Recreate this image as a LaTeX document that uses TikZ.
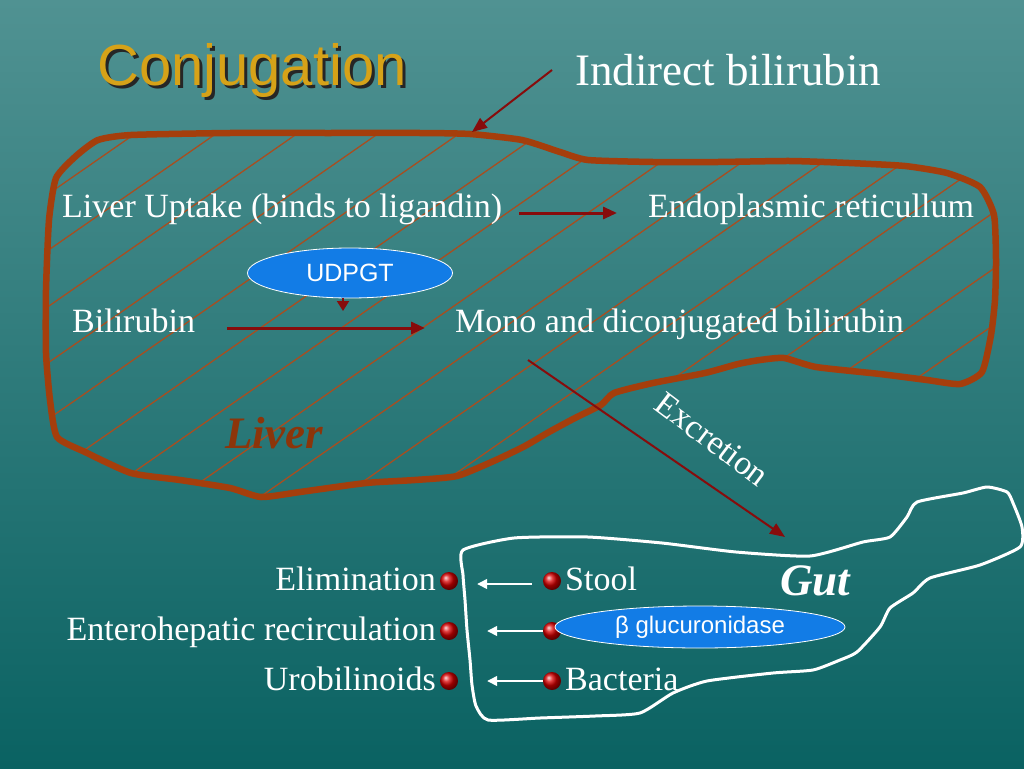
\documentclass[tikz,border=0pt]{standalone}
\usepackage{fontspec}
\setmainfont{Liberation Serif}
\newfontfamily\arialfont{Liberation Sans}
\usepackage{tikz}
\usetikzlibrary{shapes,arrows.meta,positioning}
\usepackage{xcolor}
\definecolor{bgtop}{RGB}{80,146,146}
\definecolor{bgbot}{RGB}{10,98,98}
\definecolor{titlegold}{RGB}{214,162,24}
\definecolor{liverbrown}{RGB}{165,62,12}
\definecolor{hatchbrown}{RGB}{168,78,32}
\definecolor{arrowred}{RGB}{135,12,12}
\definecolor{enzblue}{RGB}{18,124,230}

\begin{document}
\begin{tikzpicture}[x=1pt, y=-1pt,
    txt/.style={font=\fontsize{34}{40}\selectfont, text=white, inner sep=0pt, text height=20pt, text depth=12pt, anchor=base west},
    bigtxt/.style={txt, font=\fontsize{45}{54}\selectfont, text height=30pt},
    organ/.style={bigtxt, font=\fontsize{45}{54}\selectfont\bfseries\itshape},
    enzyme/.style={ellipse, draw=white, line width=0.8pt, fill=enzblue, text=white, inner sep=0pt, font=\arialfont\fontsize{25}{30}\selectfont},
    bul/.style={circle, ball color=red!85!black, minimum size=18pt, inner sep=0pt},
    rarrow/.style={-{Triangle[length=14pt,width=12pt]}, arrowred, line width=3pt},
    rthin/.style={-{Triangle[length=15pt,width=12pt]}, arrowred, line width=2pt},
    warrow/.style={-{Triangle[length=10pt,width=10pt]}, white, line width=1.4pt},
    hatch/.style={hatchbrown, line width=1.3pt}]
    \useasboundingbox (0,0) rectangle (1024,768);
    \shade[top color=bgtop, bottom color=bgbot] (0,0) rectangle (1024,768);

    % liver with hatching
    \draw[liverbrown, line width=6.5pt, line join=round,
        path picture={\foreach \k in {-3,...,17} \draw[hatch] (\k*81-369,540) -- ++(720,-500);}]
        plot[smooth cycle, tension=0.35] coordinates {
        (98,140) (131,135) (230,133) (327,133) (420,133) (470,134) (522,140) (560,152)
        (588,160) (653,162) (718,162) (790,161) (849,163) (905,166) (947,173) (980,187)
        (994,215) (996,260) (995,300) (991,335) (982,372) (960,384) (927,380) (880,374)
        (816,367) (784,358) (760,360) (738,364) (705,373) (653,383) (614,393) (601,405)
        (575,418) (549,432) (525,446) (496,460) (457,476) (415,480) (366,483) (300,492)
        (261,497) (230,488) (180,480) (131,473) (85,452) (57,437) (50,400) (46,353)
        (46,290) (49,220) (56,178) (76,156)};

    % gut
    \draw[white, line width=3pt, line join=round]
        plot[smooth cycle, tension=0.35] coordinates {
        (463,550) (514,538) (588,537) (662,543) (736,552) (810,556) (863,542) (890,537)
        (907,517) (917,502) (963,493) (987,487) (1007,492) (1013,503) (1022,527) (1020,547)
        (980,565) (930,578) (913,593) (890,608) (880,627) (857,652) (840,660) (813,670)
        (773,673) (707,681) (673,693) (640,713) (595,716) (540,718) (488,720) (476,706)
        (472,685) (470,660) (467,630) (465,600) (463,575)};

    % title
    \node[font=\arialfont\fontsize{58}{70}\selectfont, text=black!85, inner sep=0pt, anchor=base west] (titleshade) at (100,88) {Conjugation};
    \node[font=\arialfont\fontsize{58}{70}\selectfont, text=titlegold, inner sep=0pt, anchor=base west] (title) at (97,85) {Conjugation};
    \node[bigtxt] (indirect) at (575,85) {Indirect bilirubin};

    % liver
    \node[txt] (uptake) at (62,217) {Liver Uptake (binds to ligandin)};
    \node[txt] (er) at (648,217) {Endoplasmic reticullum};
    \node[enzyme, minimum width=205pt, minimum height=50pt] (udpgt) at (350,273) {UDPGT};
    \node[txt] (bili) at (72,332) {Bilirubin};
    \node[txt] (mono) at (455,332) {Mono and diconjugated bilirubin};
    \node[organ, text=liverbrown!85!black] (liver) at (225,448) {Liver};
    \node[txt, anchor=center, rotate=-37] (excr) at (708,445) {Excretion};

    \coordinate (cat) at (343,311);
    \coordinate (inTail) at (552,70);
    \coordinate (inTip) at (472,132);
    \coordinate (exTail) at (528,360);
    \coordinate (exTip) at (785,537);

    \draw[rthin] (inTail) -- (inTip);
    \draw[rarrow, shorten <=17pt, shorten >=31pt] (uptake.east) -- (er.west);
    \draw[rarrow, shorten <=32pt, shorten >=30pt] (bili.east) -- (mono.west);
    \draw[-{Triangle[length=10pt,width=12pt]}, arrowred, line width=2pt] (udpgt.south -| cat) -- (cat);
    \draw[rthin] (exTail) -- (exTip);

    % gut
    \node[organ] (gut) at (780,595) {Gut};
    \node[bul] (bL1) at (449,581) {};
    \node[bul] (bL2) at (449,631) {};
    \node[bul] (bL3) at (449,681) {};
    \node[bul] (bR1) at (552,581) {};
    \node[bul] (bR2) at (552,631) {};
    \node[bul] (bR3) at (552,681) {};
    \node[txt, anchor=base east] (elim) at (436,590) {Elimination};
    \node[txt, anchor=base east] (entero) at (436,640) {Enterohepatic recirculation};
    \node[txt, anchor=base east] (urob) at (436,690) {Urobilinoids};
    \node[txt] (stool) at (565,590) {Stool};
    \node[txt] (bact) at (565,690) {Bacteria};
    \node[enzyme, minimum width=290pt, minimum height=42pt, font=\arialfont\fontsize{24}{29}\selectfont] (gluc) at (700,627) {β glucuronidase};

    \draw[warrow, shorten <=11pt, shorten >=19pt] ([yshift=-3pt]bR1.west) -- ([yshift=-3pt]bL1.east);
    \draw[warrow, shorten >=29pt] (bR2) -- (bL2);
    \draw[warrow, shorten >=29pt] (bR3) -- (bL3);
\end{tikzpicture}
\end{document}
